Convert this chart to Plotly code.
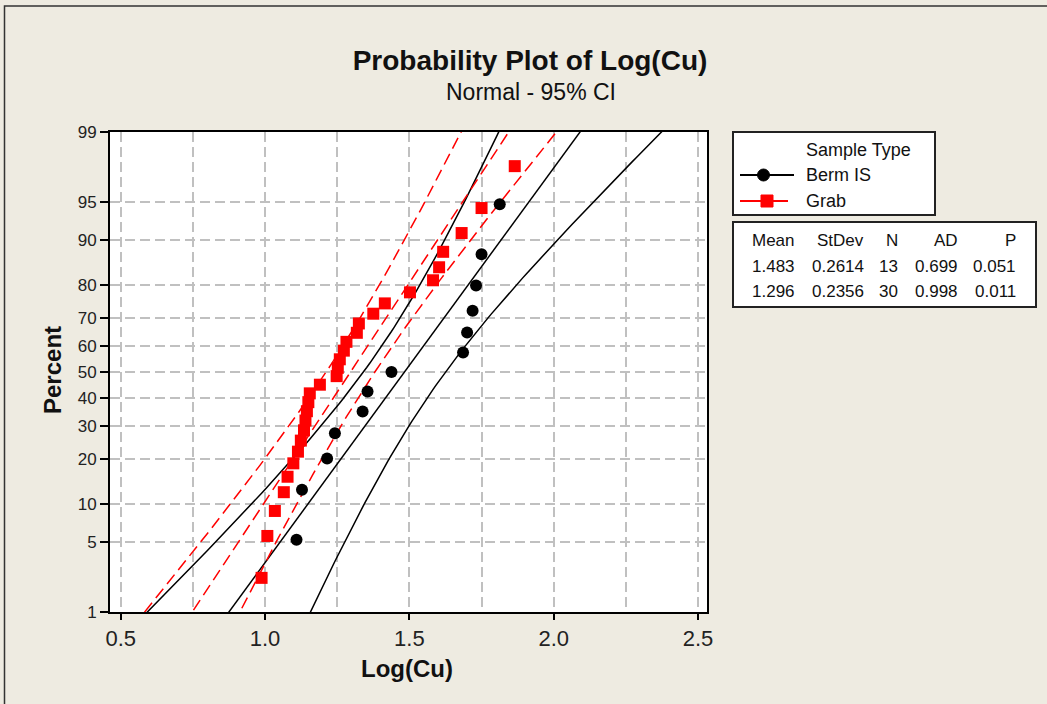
from statistics import NormalDist
import numpy as np
import plotly.graph_objects as go

ND = NormalDist()

# ---------------- data ----------------
groups = ["Berm IS", "Grab"]
berm_x = [1.109, 1.128, 1.215, 1.242, 1.338, 1.355, 1.438,
          1.686, 1.700, 1.719, 1.731, 1.750, 1.813]
berm_pct = [5.2, 12.7, 20.1, 27.6, 35.1, 42.5, 50.0,
            57.5, 64.9, 72.4, 79.9, 87.3, 94.8]
grab_x = [0.988, 1.008, 1.034, 1.065, 1.078, 1.098, 1.114, 1.124, 1.135, 1.140,
          1.145, 1.150, 1.155, 1.190, 1.248, 1.252, 1.259, 1.273, 1.282, 1.318,
          1.325, 1.375, 1.415, 1.502, 1.582, 1.603, 1.617, 1.681, 1.750, 1.865]
grab_pct = [2.3, 5.6, 8.9, 12.2, 15.5, 18.8, 22.0, 25.3, 28.6, 31.9,
            35.2, 38.5, 41.8, 45.1, 48.4, 51.6, 54.9, 58.2, 61.5, 64.8,
            68.1, 71.4, 74.7, 78.0, 81.3, 84.5, 87.8, 91.1, 94.4, 97.7]
means = [1.483, 1.296]
stdevs = [0.2614, 0.2356]
ns = [13, 30]
ads = [0.699, 0.998]
pvals = [0.051, 0.011]
pct_ticks = [1, 5, 10, 20, 30, 40, 50, 60, 70, 80, 90, 95, 99]
x_ticks = [0.5, 1.0, 1.5, 2.0, 2.5]

# ---------------- geometry helpers ----------------
W, H = 1047, 704
L, R, T, B = 110, 707, 132, 612


def xp(px):
    return (px - L) / (R - L)


def yp(py):
    return (B - py) / (B - T)


def z(p):
    return ND.inv_cdf(p / 100.0)


FONT = "Liberation Sans"
BG = "#EEEBE1"

fig = go.Figure()

# fitted lines and 95% CI bands (normal percentiles)
zz = np.linspace(-2.6, 2.6, 121)
styles = [dict(color="black", width=1.5, dash="solid"),
          dict(color="#FF0000", width=1.5, dash="12px,6px")]
for g, mu, sd, n, st in zip(groups, means, stdevs, ns, styles):
    fit = mu + zz * sd
    half = 1.96 * sd * np.sqrt(1.0 / n + zz ** 2 / (2.0 * (n - 1)))
    for xs in (fit - half, fit, fit + half):
        fig.add_trace(go.Scatter(x=xs, y=zz, mode="lines", line=st,
                                 showlegend=False, hoverinfo="skip"))

fig.add_trace(go.Scatter(x=berm_x, y=[z(p) for p in berm_pct], mode="markers",
                         name=groups[0], showlegend=False,
                         marker=dict(symbol="circle", size=12, color="black")))
fig.add_trace(go.Scatter(x=grab_x, y=[z(p) for p in grab_pct], mode="markers",
                         name=groups[1], showlegend=False,
                         marker=dict(symbol="square", size=12, color="#FF0000")))

grid = dict(showgrid=True, gridcolor="#C0C0C0", gridwidth=1.5, griddash="10px,5px")

fig.update_xaxes(range=[0.4629, 2.531], tickvals=x_ticks,
                 ticktext=["%.1f" % v for v in x_ticks],
                 ticks="outside", ticklen=6, tickwidth=1.5, tickcolor="black",
                 showline=True, linecolor="black", linewidth=2, mirror=True,
                 zeroline=False, tickfont=dict(family=FONT, size=22, color="#222"),
                 minor=dict(tick0=0.5, dtick=0.25, ticks="", showgrid=True,
                            gridcolor="#C0C0C0", gridwidth=1.5, griddash="10px,5px"),
                 automargin=False, **grid)
fig.update_yaxes(range=[z(1), z(99)], tickvals=[z(p) for p in pct_ticks],
                 ticktext=[str(p) for p in pct_ticks],
                 ticks="outside", ticklen=8, tickwidth=1.5, tickcolor="black",
                 showline=True, linecolor="black", linewidth=2, mirror=True,
                 zeroline=False, tickfont=dict(family=FONT, size=17, color="#222"),
                 automargin=False, **grid)

shapes = []
annots = []

# outer border of the graph window
shapes.append(dict(type="rect", xref="paper", yref="paper",
                   x0=xp(4.5), x1=xp(1060), y0=yp(715), y1=yp(6),
                   line=dict(color="#333", width=1.5), layer="below"))

# legend box
shapes.append(dict(type="rect", xref="paper", yref="paper",
                   x0=xp(733), x1=xp(935), y0=yp(215), y1=yp(132),
                   line=dict(color="#222", width=2), fillcolor="white"))
shapes.append(dict(type="line", xref="paper", yref="paper",
                   x0=xp(740), x1=xp(794), y0=yp(175), y1=yp(175),
                   line=dict(color="black", width=2)))
shapes.append(dict(type="circle", xref="paper", yref="paper",
                   x0=xp(757.5), x1=xp(769.5), y0=yp(181), y1=yp(169),
                   line=dict(color="black", width=1), fillcolor="black"))
shapes.append(dict(type="line", xref="paper", yref="paper",
                   x0=xp(740), x1=xp(788), y0=yp(201), y1=yp(201),
                   line=dict(color="#FF0000", width=2)))
shapes.append(dict(type="rect", xref="paper", yref="paper",
                   x0=xp(761), x1=xp(773), y0=yp(207), y1=yp(195),
                   line=dict(color="#FF0000", width=1), fillcolor="#FF0000"))

legend_rows = [("Sample Type", 150), (groups[0], 175), (groups[1], 201)]
for txt, py in legend_rows:
    annots.append(dict(text=txt, xref="paper", yref="paper", x=xp(804), y=yp(py),
                       xanchor="left", yanchor="middle", showarrow=False,
                       font=dict(family=FONT, size=18, color="#111")))

# statistics table
shapes.append(dict(type="rect", xref="paper", yref="paper",
                   x0=xp(733), x1=xp(1036), y0=yp(307), y1=yp(222),
                   line=dict(color="#222", width=2), fillcolor="white"))
col_right = [797, 866, 900, 960, 1018]
headers = ["Mean", "StDev", "N", "AD", "P"]
rows = [headers]
for i in range(len(groups)):
    rows.append(["%.3f" % means[i], "%.4f" % stdevs[i], str(ns[i]),
                 "%.3f" % ads[i], "%.3f" % pvals[i]])
for r, py in zip(rows, [240, 266, 291]):
    for txt, cx in zip(r, col_right):
        annots.append(dict(text=txt, xref="paper", yref="paper", x=xp(cx), y=yp(py),
                           xanchor="right", yanchor="middle", showarrow=False,
                           font=dict(family=FONT, size=17, color="#111")))

# subtitle and axis titles
annots.append(dict(text="Normal - 95% CI", xref="paper", yref="paper",
                   x=xp(531), y=yp(92), xanchor="center", yanchor="middle",
                   showarrow=False, font=dict(family=FONT, size=23, color="#111")))
annots.append(dict(text="<b>Percent</b>", xref="paper", yref="paper",
                   x=xp(52), y=yp(370), xanchor="center", yanchor="middle",
                   textangle=-90, showarrow=False,
                   font=dict(family=FONT, size=24, color="#111")))
annots.append(dict(text="<b>Log(Cu)</b>", xref="paper", yref="paper",
                   x=xp(407), y=yp(668), xanchor="center", yanchor="middle",
                   showarrow=False, font=dict(family=FONT, size=24, color="#111")))

fig.update_layout(
    width=W, height=H, autosize=False,
    margin=dict(l=L, r=W - R, t=T, b=H - B, pad=0),
    paper_bgcolor=BG, plot_bgcolor="white",
    title=dict(text="<b>Probability Plot of Log(Cu)</b>", xref="container",
               yref="container", x=530 / W, y=1 - 60 / H,
               xanchor="center", yanchor="middle",
               font=dict(family=FONT, size=28, color="#111")),
    shapes=shapes, annotations=annots, showlegend=False,
)

fig.write_html("out.html", config={"displayModeBar": False},
               post_script="document.body.style.margin='0px';")
